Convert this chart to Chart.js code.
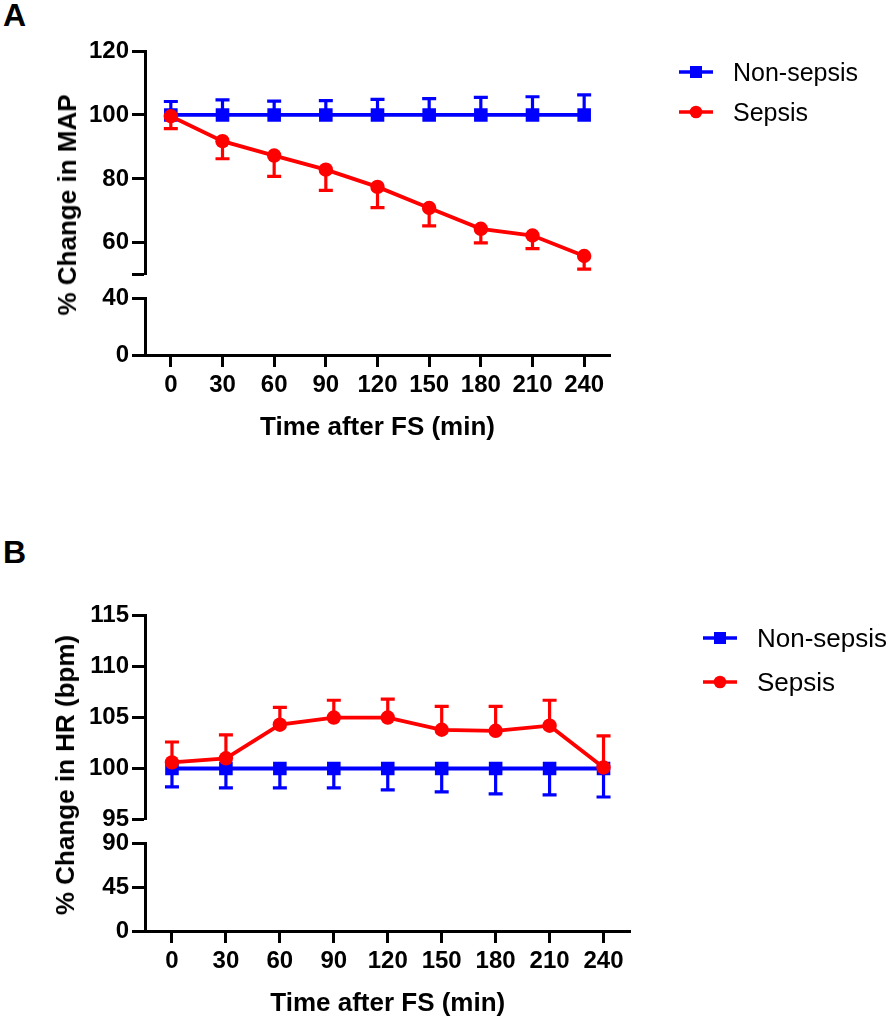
<!DOCTYPE html>
<html>
<head>
<meta charset="utf-8">
<script src="https://cdn.jsdelivr.net/npm/chart.js@4.4.1/dist/chart.umd.min.js"></script>
<style>
  html, body { margin: 0; padding: 0; background: #fff; }
  #page { position: relative; width: 894px; height: 1028px; overflow: hidden; font-family: "Liberation Sans", Arial, sans-serif; }
  canvas { position: absolute; left: 0; }
  .panel-tag { position: absolute; font-weight: bold; font-size: 32px; line-height: 1; color: #000; }
  .ytitle { position: absolute; font-weight: bold; font-size: 26px; line-height: 1; color: #000;
            white-space: nowrap; transform: translate(-50%, -50%) rotate(-90deg); }
  .legend { position: absolute; }
  .legend .row { display: flex; align-items: center; height: 40px; }
  .legend canvas { position: static; margin-right: 20px; }
  .legend span { font-size: 25px; color: #000; }
</style>
</head>
<body>
<div id="page">
  <div class="panel-tag" style="left:3px; top:-1px;">A</div>
  <div class="panel-tag" style="left:3px; top:536px;">B</div>

  <canvas id="chartA" width="894" height="460" style="top:0;"></canvas>
  <canvas id="chartB" width="894" height="528" style="top:500px;"></canvas>

  <div class="ytitle" style="left:67px; top:205px;">% Change in MAP</div>
  <div class="ytitle" style="left:65px; top:775px;">% Change in HR (bpm)</div>

  <div class="legend" id="legendA" style="left:679px; top:52px;"></div>
  <div class="legend" id="legendB" style="left:703px; top:616px;"></div>
</div>

<script>
// ---- data ----
const timeLabels = ['0', '30', '60', '90', '120', '150', '180', '210', '240'];

// A: mean arterial pressure, % of baseline (mean, one-sided SD)
const mapNonSepsis   = [100, 100, 100, 100, 100, 100, 100, 100, 100];
const mapNonSepsisSD = [4.2, 4.7, 4.3, 4.5, 4.9, 5.1, 5.5, 5.7, 6.3];
const mapSepsis      = [99.6, 91.8, 87.3, 82.9, 77.5, 70.9, 64.4, 62.3, 55.9];
const mapSepsisSD    = [3.9, 5.5, 6.5, 6.5, 6.5, 5.6, 4.4, 4.1, 4.1];

// B: heart rate, % of baseline
const hrNonSepsis   = [100, 100, 100, 100, 100, 100, 100, 100, 100];
const hrNonSepsisSD = [1.8, 1.9, 1.9, 1.9, 2.1, 2.3, 2.5, 2.6, 2.8];
const hrSepsis      = [100.6, 101.0, 104.3, 105.0, 105.0, 103.8, 103.7, 104.2, 100.1];
const hrSepsisSD    = [2.0, 2.3, 1.7, 1.7, 1.8, 2.3, 2.4, 2.5, 3.1];

// broken y axes: [min, max] of each segment and the labelled ticks
const mapUpperRange = [50, 120];
const mapUpperTicks = [60, 80, 100, 120];
const mapLowerRange = [0, 40];
const mapLowerTicks = [0, 40];
const hrUpperRange  = [95, 115];
const hrUpperTicks  = [95, 100, 105, 110, 115];
const hrLowerRange  = [0, 90];
const hrLowerTicks  = [0, 45, 90];

const seriesNames = ['Non-sepsis', 'Sepsis'];

// ---- styling ----
const BLUE = '#0000ff';
const RED = '#ff0000';
const INK = '#000';
Chart.defaults.font.family = '"Liberation Sans", Arial, sans-serif';

const tickFont = { size: 24, weight: 'bold' };

// one-sided error bars, drawn under the dataset's own line/markers
const errorBars = {
  id: 'errorBars',
  beforeDatasetDraw(chart, args) {
    const ds = chart.data.datasets[args.index];
    if (!ds.errors) return;
    const meta = args.meta;
    const yScale = chart.scales[meta.yAxisID];
    const ctx = chart.ctx;
    ctx.save();
    ctx.strokeStyle = ds.borderColor;
    ctx.lineWidth = 3.2;
    ctx.lineCap = 'butt';
    meta.data.forEach((pt, i) => {
      const v = ds.data[i];
      const end = yScale.getPixelForValue(v + ds.errDir * ds.errors[i]);
      ctx.beginPath();
      ctx.moveTo(pt.x, pt.y);
      ctx.lineTo(pt.x, end);
      ctx.moveTo(pt.x - 7, end);
      ctx.lineTo(pt.x + 7, end);
      ctx.stroke();
    });
    ctx.restore();
  }
};

function segmentAxis(range, labelled, weight, stackWeight) {
  return {
    type: 'linear',
    position: 'left',
    stack: 'y',
    weight: weight,
    stackWeight: stackWeight,
    min: range[0],
    max: range[1],
    afterBuildTicks(axis) {
      const vals = Array.from(new Set([range[0], ...labelled, range[1]])).sort((a, b) => a - b);
      axis.ticks = vals.map(v => ({ value: v }));
    },
    afterFit(axis) { axis.width = 60; },
    grid: { drawOnChartArea: false, tickLength: 13, tickWidth: 3, tickColor: INK },
    border: { display: true, width: 3, color: INK },
    ticks: {
      color: INK, font: tickFont, padding: 3, autoSkip: false,
      callback: v => labelled.includes(v) ? String(v) : ''
    }
  };
}

function makePanel(canvas, opts) {
  return new Chart(canvas, {
    type: 'line',
    data: {
      labels: timeLabels,
      datasets: [
        {
          label: seriesNames[0], data: opts.non, errors: opts.nonSD, errDir: opts.nonDir,
          yAxisID: 'yUpper', order: 1,
          borderColor: BLUE, backgroundColor: BLUE, borderWidth: 3.8,
          pointStyle: 'rect', pointRadius: 9.6, pointBorderWidth: 0,
          pointBackgroundColor: BLUE, tension: 0
        },
        {
          label: seriesNames[1], data: opts.sep, errors: opts.sepSD, errDir: opts.sepDir,
          yAxisID: 'yUpper', order: 0,
          borderColor: RED, backgroundColor: RED, borderWidth: 3.8,
          pointStyle: 'circle', pointRadius: 7.2, pointBorderWidth: 0,
          pointBackgroundColor: RED, tension: 0
        }
      ]
    },
    options: {
      responsive: false,
      animation: false,
      layout: { padding: opts.padding },
      plugins: { legend: { display: false }, tooltip: { enabled: false } },
      scales: {
        x: {
          type: 'category',
          offset: true,
          grid: { offset: false, drawOnChartArea: false, tickLength: 12, tickWidth: 3, tickColor: INK },
          border: { display: true, width: 3, color: INK },
          ticks: { color: INK, font: tickFont, padding: 4, maxRotation: 0, autoSkip: false },
          title: {
            display: true, text: 'Time after FS (min)', color: INK,
            font: { size: 26, weight: 'bold' }, padding: { top: 8, bottom: 0 }
          }
        },
        yUpper: segmentAxis(opts.upper, opts.upperTicks, 3, opts.weights[0]),
        yGap: { type: 'linear', position: 'left', stack: 'y', weight: 2, stackWeight: opts.weights[1], display: false },
        yLower: segmentAxis(opts.lower, opts.lowerTicks, 1, opts.weights[2])
      }
    },
    plugins: [errorBars]
  });
}

makePanel(document.getElementById('chartA'), {
  non: mapNonSepsis, nonSD: mapNonSepsisSD, nonDir: 1,
  sep: mapSepsis, sepSD: mapSepsisSD, sepDir: -1,
  upper: mapUpperRange, upperTicks: mapUpperTicks,
  lower: mapLowerRange, lowerTicks: mapLowerTicks,
  weights: [227, 24.3, 57],
  padding: { left: 85, right: 284, top: 51, bottom: 17 }
});

makePanel(document.getElementById('chartB'), {
  non: hrNonSepsis, nonSD: hrNonSepsisSD, nonDir: -1,
  sep: hrSepsis, sepSD: hrSepsisSD, sepDir: 1,
  upper: hrUpperRange, upperTicks: hrUpperTicks,
  lower: hrLowerRange, lowerTicks: hrLowerTicks,
  weights: [206.3, 24, 89],
  padding: { left: 85, right: 263.5, top: 115.7, bottom: 9 }
});

// legends: line + marker swatch and the series name
function buildLegend(el, rowHeight, fontSize) {
  [[BLUE, 'rect'], [RED, 'circle']].forEach(([color, shape], i) => {
    const row = document.createElement('div');
    row.className = 'row';
    row.style.height = rowHeight + 'px';
    const sw = document.createElement('canvas');
    sw.width = 34; sw.height = 16;
    const c = sw.getContext('2d');
    c.strokeStyle = color; c.fillStyle = color; c.lineWidth = 3.5;
    c.beginPath(); c.moveTo(0, 8); c.lineTo(34, 8); c.stroke();
    if (shape === 'rect') c.fillRect(11, 2, 12, 12);
    else { c.beginPath(); c.arc(17, 8, 6.3, 0, Math.PI * 2); c.fill(); }
    const label = document.createElement('span');
    label.textContent = seriesNames[i];
    label.style.fontSize = fontSize + 'px';
    row.appendChild(sw);
    row.appendChild(label);
    el.appendChild(row);
  });
}
buildLegend(document.getElementById('legendA'), 40, 25);
buildLegend(document.getElementById('legendB'), 44, 26);
</script>
</body>
</html>
